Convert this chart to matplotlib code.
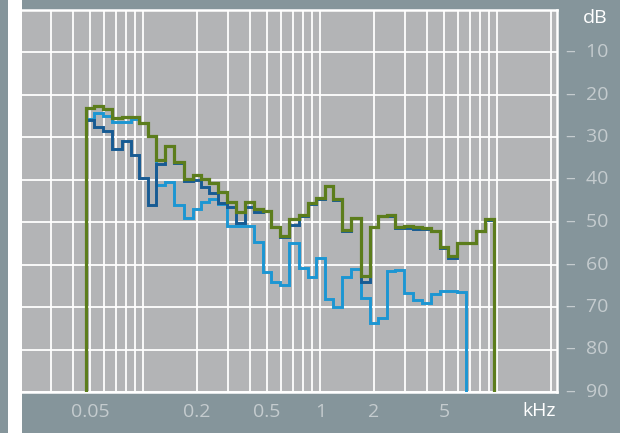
import numpy as np
import matplotlib
matplotlib.use("Agg")
import matplotlib.pyplot as plt
from matplotlib.patches import Rectangle
from matplotlib.transforms import blended_transform_factory
from matplotlib.ticker import NullLocator

# centres des bandes (kHz), 1/6 d'octave
band_khz = [0.05, 0.056, 0.063, 0.071, 0.08, 0.09,
            0.1, 0.112, 0.125, 0.14, 0.16, 0.18, 0.2, 0.224, 0.25, 0.28,
            0.315, 0.355, 0.4, 0.45, 0.5, 0.56, 0.63, 0.71, 0.8, 0.9,
            1.0, 1.12, 1.25, 1.4, 1.6, 1.8, 2.0, 2.24, 2.5, 2.8,
            3.15, 3.55, 4.0, 4.5, 5.0, 5.6, 6.3, 7.1, 8.0, 9.0]

# niveaux en dB (valeurs negatives sous 0 dB)
green_db = [23.1, 22.7, 23.4, 25.5, 25.3, 25.2, 26.8, 29.8, 35.5, 32.0,
            35.9, 39.8, 39.0, 39.9, 40.8, 43.0, 45.2, 47.6, 45.2, 47.0,
            47.3, 51.1, 53.3, 49.4, 48.4, 45.6, 44.4, 41.5, 44.6, 51.9,
            49.0, 62.6, 51.1, 48.6, 48.4, 51.1, 51.0, 51.2, 51.4, 52.0,
            55.8, 58.0, 54.9, 54.9, 52.0, 49.4]
dark_db = [26.1, 27.7, 28.6, 32.9, 30.9, 34.2, 39.6, 46.1, 36.3, 32.2,
           36.0, 40.4, 40.0, 41.7, 43.2, 45.5, 46.4, 50.2, 46.4, 47.6,
           47.4, 51.2, 53.6, 50.7, 48.7, 45.8, 44.5, 41.6, 44.8, 52.2,
           49.1, 64.0, 51.2, 48.7, 48.6, 51.4, 51.5, 51.6, 51.7, 52.2,
           56.2, 58.5, 55.0, 55.0, 52.1, 49.5]
light_db = [25.8, 24.4, 25.0, 26.4, 26.5, 25.8, 26.8, 29.8, 41.4, 40.6,
            46.1, 49.0, 47.0, 45.2, 44.7, 45.8, 50.9, 50.9, 50.9, 54.6,
            61.8, 64.0, 64.8, 55.0, 60.8, 62.9, 58.5, 68.0, 70.1, 62.9,
            61.1, 67.8, 73.7, 72.5, 61.5, 61.3, 66.8, 68.4, 69.1, 67.0,
            66.2, 66.2, 66.5]

grid_khz = [0.03, 0.04, 0.05, 0.06, 0.07, 0.08, 0.09,
            0.1, 0.2, 0.3, 0.4, 0.5, 0.6, 0.7, 0.8, 0.9,
            1, 2, 3, 4, 5, 6, 7, 8, 9, 10, 20]
xlabels = ["0.05", "0.2", "0.5", "1", "2", "5"]
xlabel_pos = [0.05, 0.2, 0.5, 1, 2, 5]
db_ticks = [10, 20, 30, 40, 50, 60, 70, 80, 90]

SLATE = "#85959b"
PANEL = "#b3b4b6"
LABEL = "#c4cbce"


def band_edges(centres):
    c = np.log10(centres)
    mid = (c[:-1] + c[1:]) / 2
    first = c[0] - (c[1] - c[0]) / 2
    last = c[-1] + (c[-1] - c[-2]) / 2
    return 10 ** np.concatenate([[first], mid, [last]])


plt.rcParams['font.family'] = ['Open Sans', 'DejaVu Sans']

fig = plt.figure(figsize=(6.2, 4.33), dpi=100)
fig.patch.set_facecolor(SLATE)
fig.add_artist(Rectangle((8 / 620, 0), 14 / 620, 1, transform=fig.transFigure,
                         facecolor="white", edgecolor="none"))

ax = fig.add_axes([22 / 620, 41 / 433, 535 / 620, 382.5 / 433])
ax.set_facecolor(PANEL)
ax.set_xscale("log")
ax.set_xlim(10 ** -1.685, 10 ** 1.337)
ax.set_ylim(-90, 0)

ax.set_xticks(grid_khz)
ax.xaxis.set_minor_locator(NullLocator())
ax.set_yticks([-t for t in db_ticks])
ax.tick_params(length=0, labelbottom=False, labelleft=False)
ax.grid(True, color="white", lw=1.3)
ax.set_axisbelow(True)
for s in ax.spines.values():
    s.set_color("white")
    s.set_linewidth(1.8)
ax.spines["left"].set_visible(False)

edges = band_edges(band_khz)
n_light = len(light_db)
ax.stairs([-v for v in light_db], edges[:n_light + 1], baseline=-90,
          color="#1c96d3", lw=2.1, zorder=3)
ax.stairs([-v for v in dark_db], edges, baseline=-90,
          color="#175b93", lw=2.1, zorder=4)
ax.stairs([-v for v in green_db], edges, baseline=-90,
          color="#5c7d1c", lw=2.3, zorder=5)

# etiquettes
ytr = blended_transform_factory(fig.transFigure, ax.transData)
for t in db_ticks:
    fig.text(608 / 620, -t, "\u2013  %d" % t, transform=ytr, ha="right",
             va="center", color=LABEL, fontsize=14)
fig.text(608 / 620, 1 - 18 / 433, "dB", ha="right", va="center",
         color="white", fontsize=14)

xtr = blended_transform_factory(ax.transData, fig.transFigure)
for pos, lab in zip(xlabel_pos, xlabels):
    fig.text(pos, 1 - 412 / 433, lab, transform=xtr, ha="center",
             va="center", color=LABEL, fontsize=14)
fig.text(556 / 620, 1 - 411 / 433, "kHz", ha="right", va="center",
         color="white", fontsize=14)

fig.savefig("out.png", dpi=100, facecolor=fig.get_facecolor())
